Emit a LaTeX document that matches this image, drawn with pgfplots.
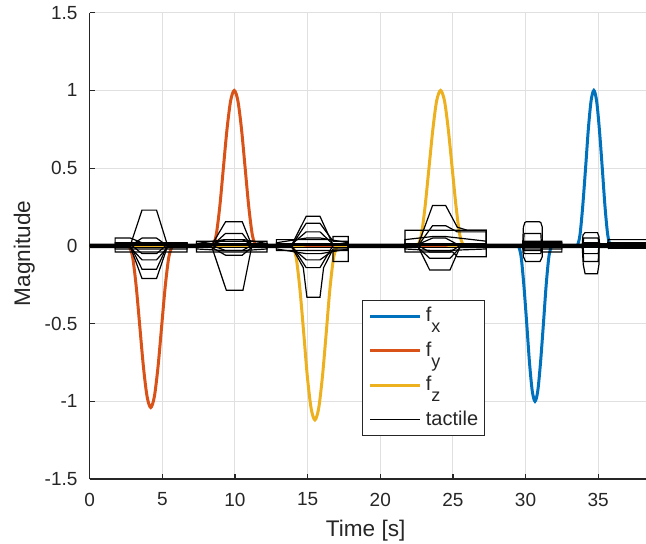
\documentclass[border=0pt]{standalone}
\usepackage{fontspec}
\setmainfont{Liberation Sans}
\usepackage{pgfplots}
\pgfplotsset{compat=1.18}
\definecolor{mblue}{rgb}{0,0.447,0.741}
\definecolor{morange}{rgb}{0.850,0.325,0.098}
\definecolor{myellow}{rgb}{0.929,0.694,0.125}
\definecolor{maxis}{rgb}{0.15,0.15,0.15}
\newcommand{\lsub}[1]{\raisebox{-5.5pt}{\fontsize{9}{9}\selectfont #1}}
\begin{document}
\begin{tikzpicture}
\begin{axis}[
  scale only axis, width=278.15pt, height=233.15pt,
  xmin=0, xmax=38.29, ymin=-1.5, ymax=1.5,
  axis x line=bottom, axis y line=left,
  axis line style={-, draw=maxis, line width=0.6pt},
  xtick={0,5,10,15,20,25,30,35}, xticklabels={0,5,10,15,20,25,30,35},
  ytick={-1.5,-1,-0.5,0,0.5,1,1.5}, yticklabels={-1.5,-1,-0.5,0,0.5,1,1.5},
  tick align=inside, major tick length=2.5pt,
  tick style={draw=maxis, line width=0.6pt},
  grid=major, major grid style={draw=black!12, line width=0.5pt},
  ticklabel style={font=\fontsize{9.5}{11}\selectfont, text=maxis},
  xticklabel style={yshift=-3.4pt},
  yticklabel style={xshift=-2.6pt},
  xlabel={Time [s]}, ylabel={Magnitude},
  label style={font=\fontsize{11.3}{13}\selectfont, text=maxis},
  xlabel style={at={(axis description cs:0.4961,-0.1237)}, anchor=base},
  ylabel style={at={(axis description cs:-0.1073,0.484)}, anchor=base},
  legend style={at={(0.4895,0.3839)}, anchor=north west, draw=maxis, line width=0.5pt,
    fill=white, font=\fontsize{10}{12}\selectfont, text=maxis,
    inner xsep=3pt, inner ysep=3.5pt, row sep=8.5pt,
    nodes={inner sep=0pt}, cells={anchor=west},
    /tikz/every odd column/.append style={column sep=2.2pt}},
  legend image code/.code={\draw[#1] (0pt,0pt) -- (25pt,0pt);},
]
\addplot[mblue, line width=1.5pt, smooth] coordinates {
(0,0) (29.3,0) (29.5,0) (29.69,-0.067) (29.88,-0.25) (30.08,-0.5) (30.27,-0.75) (30.46,-0.933) (30.65,-1.0) (30.84,-0.933) (31.03,-0.75) (31.23,-0.5) (31.42,-0.25) (31.61,-0.067) (31.8,0) (32.0,0) (33.35,0) (33.55,0) (33.74,0.067) (33.93,0.25) (34.13,0.5) (34.32,0.75) (34.51,0.933) (34.7,1.0) (34.89,0.933) (35.08,0.75) (35.28,0.5) (35.47,0.25) (35.66,0.067) (35.85,0) (36.05,0) (38.3,0)};
\addlegendentry{f\lsub{x}}
\addplot[morange, line width=1.5pt, smooth] coordinates {
(0,0) (2.5,0) (2.7,0) (2.95,-0.070) (3.2,-0.26) (3.45,-0.52) (3.7,-0.78) (3.95,-0.970) (4.2,-1.04) (4.45,-0.970) (4.7,-0.78) (4.95,-0.52) (5.2,-0.26) (5.45,-0.070) (5.7,0) (5.9,0) (8.25,0) (8.45,0) (8.7,0.067) (8.95,0.25) (9.2,0.5) (9.45,0.75) (9.7,0.933) (9.95,1.0) (10.2,0.933) (10.45,0.75) (10.7,0.5) (10.95,0.25) (11.2,0.067) (11.45,0) (11.65,0) (38.3,0)};
\addlegendentry{f\lsub{y}}
\addplot[myellow, line width=1.5pt, smooth] coordinates {
(0,0) (13.75,0) (13.95,0) (14.21,-0.075) (14.47,-0.28) (14.73,-0.56) (14.98,-0.84) (15.24,-1.045) (15.5,-1.12) (15.76,-1.045) (16.02,-0.84) (16.28,-0.56) (16.53,-0.28) (16.79,-0.075) (17.05,0) (17.25,0) (22.35,0) (22.55,0) (22.82,0.067) (23.08,0.25) (23.35,0.5) (23.62,0.75) (23.88,0.933) (24.15,1.0) (24.42,0.933) (24.68,0.75) (24.95,0.5) (25.22,0.25) (25.48,0.067) (25.75,0) (25.95,0) (38.3,0)};
\addlegendentry{f\lsub{z}}
% tactile
\addplot[black, line width=0.6pt] coordinates {
(0,0.005) (2.8,0.005) (3.6,0.23) (4.6,0.23) (5.35,0.005) (8.4,0.005) (9.35,0.155) (10.5,0.155) (11.15,0.005) (13.9,0.005) (14.9,0.19) (15.85,0.19) (16.75,0.005) (22.6,0.005) (23.6,0.26) (24.5,0.26) (25.3,0.12) (26.0,0.10) (27.3,0.10) (27.3,0.005) (29.8,0.005) (29.85,0.12) (29.95,0.15) (30.05,0.155) (30.95,0.155) (31.05,0.15) (31.15,0.12) (31.15,0.005) (33.9,0.005) (33.95,0.07) (34.1,0.085) (34.95,0.085) (35.05,0.06) (35.1,0.005) (38.3,0.005)};
\addlegendentry{tactile}
\addplot[black, line width=0.6pt, forget plot] coordinates {
(0,-0.005) (2.8,-0.005) (3.6,-0.21) (4.6,-0.21) (5.35,-0.005) (8.4,-0.005) (9.4,-0.285) (10.55,-0.285) (11.15,-0.005) (13.9,-0.005) (14.7,-0.14) (14.95,-0.33) (15.85,-0.33) (16.1,-0.14) (16.75,-0.02) (17.8,-0.02) (17.8,-0.005) (22.6,-0.005) (23.4,-0.155) (24.8,-0.155) (25.5,-0.005) (29.8,-0.005) (29.85,-0.07) (30.0,-0.10) (31.0,-0.10) (31.15,-0.07) (31.15,-0.005) (33.9,-0.005) (33.97,-0.12) (34.1,-0.18) (34.95,-0.18) (35.05,-0.12) (35.05,-0.005) (38.3,-0.005)};
\addplot[black, line width=0.6pt, forget plot] coordinates {
(0,0) (2.8,0) (3.6,0.05) (4.6,0.05) (5.35,0) (8.4,0) (9.35,0.08) (10.5,0.08) (11.15,0) (13.9,0) (14.9,0.145) (15.85,0.145) (16.75,0.03) (17.8,0.03) (17.8,0) (22.6,0) (23.6,0.13) (24.5,0.13) (25.3,0.09) (27.3,0.09) (27.3,0) (29.85,0) (29.9,0.08) (31.05,0.08) (31.1,0) (33.95,0) (34.0,0.05) (35.0,0.05) (35.05,0) (38.3,0)};
\addplot[black, line width=0.6pt, forget plot] coordinates {
(0,-0.01) (2.8,-0.01) (3.6,-0.09) (4.6,-0.09) (5.35,-0.01) (8.4,-0.01) (9.35,-0.06) (10.5,-0.06) (11.15,-0.01) (13.9,-0.01) (14.9,-0.09) (15.85,-0.09) (16.75,-0.03) (17.8,-0.03) (17.8,-0.01) (22.6,-0.01) (23.4,-0.08) (24.8,-0.08) (25.5,-0.01) (29.85,-0.01) (29.9,-0.05) (31.05,-0.05) (31.1,-0.01) (33.95,-0.01) (34.0,-0.10) (35.0,-0.10) (35.05,-0.01) (38.3,-0.01)};
\addplot[black, line width=0.6pt, forget plot] coordinates {
(0,0.01) (2.8,0.01) (3.6,-0.05) (4.6,-0.05) (5.35,0.01) (8.4,0.01) (9.35,0.04) (10.5,0.04) (11.15,0.01) (13.9,0.01) (14.9,0.09) (15.85,0.09) (16.75,0.01) (22.6,0.01) (23.6,0.05) (24.5,0.05) (25.3,0.01) (29.85,0.01) (29.9,0.03) (31.05,0.03) (31.1,0.01) (33.95,0.01) (34.0,0.02) (35.0,0.02) (35.05,0.01) (38.3,0.01)};
\addplot[black, line width=0.6pt, forget plot] coordinates {
(0,0.003) (2.8,0.003) (3.6,-0.15) (4.6,-0.15) (5.35,0.003) (8.4,0.003) (9.35,-0.03) (10.5,-0.03) (11.15,0.003) (13.9,0.003) (14.9,-0.14) (15.85,-0.14) (16.75,0.003) (22.6,0.003) (23.4,-0.04) (24.8,-0.04) (25.5,0.003) (29.85,0.003) (29.9,-0.03) (31.05,-0.03) (31.1,0.003) (33.95,0.003) (34.0,-0.05) (35.0,-0.05) (35.05,0.003) (38.3,0.003)};
\addplot[black, line width=0.6pt, forget plot] coordinates {
(0,-0.003) (1.75,-0.003) (1.75,0.05) (2.8,0.05) (3.6,0.02) (6.7,0.02) (6.7,-0.003) (7.35,-0.003) (7.35,0.03) (12.2,0.03) (12.2,-0.003) (12.85,-0.003) (12.85,0.04) (16.75,0.04) (16.75,0.06) (17.8,0.06) (17.8,-0.003) (21.7,-0.003) (21.7,0.10) (27.3,0.10) (27.3,-0.003) (31.1,-0.003) (31.1,0.03) (32.5,0.03) (32.5,-0.003) (35.6,-0.003) (35.7,0.04) (38.3,0.04)};
\addplot[black, line width=0.6pt, forget plot] coordinates {
(0,0.007) (1.75,0.007) (1.75,-0.04) (6.7,-0.04) (6.7,0.007) (7.35,0.007) (7.35,-0.04) (12.2,-0.04) (12.2,0.007) (12.85,0.007) (12.85,-0.03) (16.75,-0.03) (16.75,-0.10) (17.8,-0.10) (17.8,0.007) (21.7,0.007) (21.7,-0.04) (25.0,-0.04) (25.3,-0.07) (27.3,-0.07) (27.3,0.007) (31.1,0.007) (31.1,-0.04) (32.5,-0.04) (32.5,0.007) (35.6,0.007) (35.7,-0.015) (38.3,-0.015)};
\addplot[black, line width=0.6pt, forget plot] coordinates {
(0,0) (1.75,0) (1.75,0.02) (6.7,0.02) (6.7,0) (7.35,0) (7.35,0.015) (9.3,0.04) (10.6,0.04) (12.2,0.015) (12.2,0) (12.85,0) (12.85,0.02) (14.9,0.05) (15.9,0.05) (17.8,0.02) (17.8,0) (21.7,0) (21.7,0.04) (23.6,0.06) (24.5,0.06) (27.3,0.03) (27.3,0) (29.85,0) (29.9,0.02) (32.5,0.02) (32.5,0) (35.7,0) (35.7,0.02) (38.3,0.02)};
\addplot[black, line width=0.6pt, forget plot] coordinates {
(0,-0.002) (1.75,-0.002) (1.75,-0.02) (6.7,-0.02) (6.7,-0.002) (7.35,-0.002) (7.35,-0.02) (9.3,-0.03) (10.6,-0.03) (12.2,-0.02) (12.2,-0.002) (12.85,-0.002) (12.85,-0.02) (14.9,-0.05) (15.9,-0.05) (17.8,-0.02) (17.8,-0.002) (21.7,-0.002) (21.7,-0.02) (23.6,-0.03) (24.5,-0.03) (27.3,-0.02) (27.3,-0.002) (29.85,-0.002) (29.9,-0.02) (32.5,-0.02) (32.5,-0.002) (35.7,-0.002) (35.7,0.01) (38.3,0.01)};
\addplot[black, line width=0.6pt, forget plot] coordinates {(0,0) (38.3,0)};
\addplot[black, line width=0.6pt, forget plot] coordinates {
(0,0.002) (1.75,0.002) (1.75,0.012) (6.7,0.012) (6.7,0.002) (7.35,0.002) (7.35,0.012) (12.2,0.012) (12.2,0.002) (12.85,0.002) (12.85,0.012) (17.8,0.012) (17.8,0.002) (21.7,0.002) (21.7,0.012) (27.3,0.012) (27.3,0.002) (29.85,0.002) (29.85,0.012) (32.5,0.012) (32.5,0.002) (33.95,0.002) (33.95,0.012) (38.3,0.012)};
\addplot[black, line width=0.6pt, forget plot] coordinates {
(0,-0.002) (1.75,-0.002) (1.75,-0.012) (6.7,-0.012) (6.7,-0.002) (7.35,-0.002) (7.35,-0.012) (12.2,-0.012) (12.2,-0.002) (12.85,-0.002) (12.85,-0.012) (17.8,-0.012) (17.8,-0.002) (21.7,-0.002) (21.7,-0.012) (27.3,-0.012) (27.3,-0.002) (29.85,-0.002) (29.85,-0.012) (32.5,-0.012) (32.5,-0.002) (33.95,-0.002) (33.95,-0.012) (38.3,-0.012)};
\end{axis}
\pgfresetboundingbox
\path (-44.85pt,-32pt) rectangle (278.15pt,239.5pt);
\end{tikzpicture}
\end{document}
